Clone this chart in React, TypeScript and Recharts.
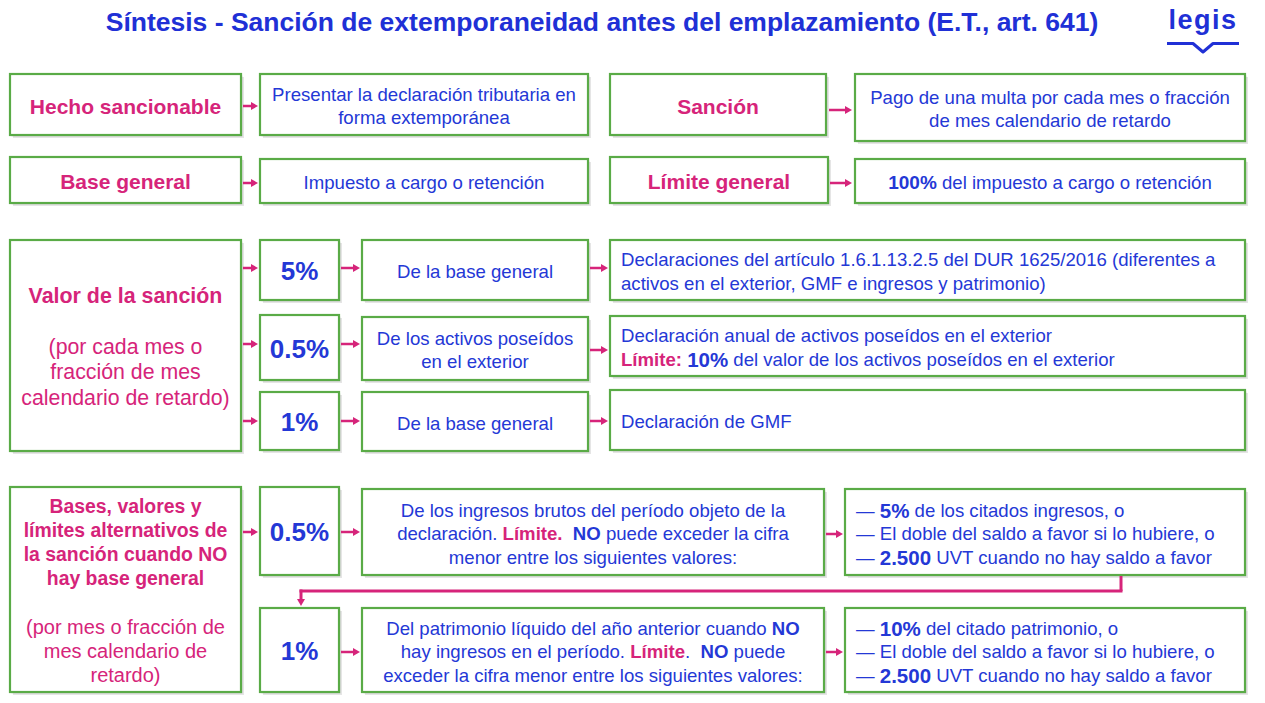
import React from 'react';
import { ComposedChart, XAxis, YAxis, ReferenceArea, ReferenceLine } from 'recharts';

// ---------- content ----------
const titleText = 'Síntesis - Sanción de extemporaneidad antes del emplazamiento (E.T., art. 641)';
const logoText = 'legis';

const headLabels: string[][] = [
  ['Hecho sancionable'],
  ['Sanción'],
  ['Base general'],
  ['Límite general'],
];
const headValues: string[][] = [
  ['Presentar la declaración tributaria en', 'forma extemporánea'],
  ['Pago de una multa por cada mes o fracción', 'de mes calendario de retardo'],
  ['Impuesto a cargo o retención'],
  ['*100%* del impuesto a cargo o retención'],
];
const valorLines: string[] = ['*Valor de la sanción*', '', '(por cada mes o', 'fracción de mes', 'calendario de retardo)'];
const rateLabels: string[] = ['5%', '0.5%', '1%'];
const rateBases: string[][] = [
  ['De la base general'],
  ['De los activos poseídos', 'en el exterior'],
  ['De la base general'],
];
const rateDeclarations: string[][] = [
  ['Declaraciones del artículo 1.6.1.13.2.5 del DUR 1625/2016 (diferentes a', 'activos en el exterior, GMF e ingresos y patrimonio)'],
  ['Declaración anual de activos poseídos en el exterior', '#Límite:# *10%* del valor de los activos poseídos en el exterior'],
  ['Declaración de GMF'],
];
const altLines: string[] = [
  '*Bases, valores y*', '*límites alternativos de*', '*la sanción cuando NO*', '*hay base general*', '',
  '(por mes o fracción de', 'mes calendario de', 'retardo)',
];
const altRates: string[] = ['0.5%', '1%'];
const altBases: string[][] = [
  ['De los ingresos brutos del período objeto de la', 'declaración. #Límite.#  *NO* puede exceder la cifra', 'menor entre los siguientes valores:'],
  ['Del patrimonio líquido del año anterior cuando *NO*', 'hay ingresos en el período. #Límite#.  *NO* puede', 'exceder la cifra menor entre los siguientes valores:'],
];
const altLimits: string[][] = [
  ['— *5%* de los citados ingresos, o', '— El doble del saldo a favor si lo hubiere, o', '— *2.500* UVT cuando no hay saldo a favor'],
  ['— *10%* del citado patrimonio, o', '— El doble del saldo a favor si lo hubiere, o', '— *2.500* UVT cuando no hay saldo a favor'],
];

// ---------- layout (diagram units) ----------
type Kind = 'head' | 'body' | 'bodyL' | 'pct' | 'side' | 'side2';
type Box = { x1: number; x2: number; y1: number; y2: number; kind: Kind; lines: string[] };

const boxes: Box[] = [
  { x1: 10, x2: 241, y1: 74, y2: 135, kind: 'head', lines: headLabels[0] },
  { x1: 260, x2: 588, y1: 74, y2: 135, kind: 'body', lines: headValues[0] },
  { x1: 610, x2: 826, y1: 74, y2: 135, kind: 'head', lines: headLabels[1] },
  { x1: 855, x2: 1245, y1: 74, y2: 141, kind: 'body', lines: headValues[1] },
  { x1: 10, x2: 241, y1: 157, y2: 203, kind: 'head', lines: headLabels[2] },
  { x1: 260, x2: 588, y1: 159, y2: 203, kind: 'body', lines: headValues[2] },
  { x1: 610, x2: 828, y1: 157, y2: 203, kind: 'head', lines: headLabels[3] },
  { x1: 855, x2: 1245, y1: 159, y2: 203, kind: 'body', lines: headValues[3] },
  { x1: 10, x2: 241, y1: 240, y2: 451, kind: 'side', lines: valorLines },
  { x1: 260, x2: 339, y1: 240, y2: 300, kind: 'pct', lines: [rateLabels[0]] },
  { x1: 260, x2: 339, y1: 315, y2: 380, kind: 'pct', lines: [rateLabels[1]] },
  { x1: 260, x2: 339, y1: 392, y2: 450, kind: 'pct', lines: [rateLabels[2]] },
  { x1: 362, x2: 588, y1: 240, y2: 300, kind: 'body', lines: rateBases[0] },
  { x1: 362, x2: 588, y1: 317, y2: 380, kind: 'body', lines: rateBases[1] },
  { x1: 362, x2: 588, y1: 392, y2: 451, kind: 'body', lines: rateBases[2] },
  { x1: 610, x2: 1245, y1: 240, y2: 300, kind: 'bodyL', lines: rateDeclarations[0] },
  { x1: 610, x2: 1245, y1: 316, y2: 376, kind: 'bodyL', lines: rateDeclarations[1] },
  { x1: 610, x2: 1245, y1: 390, y2: 450, kind: 'bodyL', lines: rateDeclarations[2] },
  { x1: 10, x2: 241, y1: 487, y2: 692, kind: 'side2', lines: altLines },
  { x1: 260, x2: 339, y1: 487, y2: 575, kind: 'pct', lines: [altRates[0]] },
  { x1: 260, x2: 339, y1: 608, y2: 692, kind: 'pct', lines: [altRates[1]] },
  { x1: 362, x2: 824, y1: 489, y2: 575, kind: 'body', lines: altBases[0] },
  { x1: 362, x2: 824, y1: 608, y2: 692, kind: 'body', lines: altBases[1] },
  { x1: 845, x2: 1245, y1: 489, y2: 575, kind: 'bodyL', lines: altLimits[0] },
  { x1: 845, x2: 1245, y1: 608, y2: 692, kind: 'bodyL', lines: altLimits[1] },
];

type Seg = { x1: number; y1: number; x2: number; y2: number; head: boolean; w: number };
const arrows: Seg[] = [
  { x1: 243, y1: 106, x2: 258, y2: 106, head: true, w: 2.5 },
  { x1: 829, y1: 110, x2: 852, y2: 110, head: true, w: 2.5 },
  { x1: 243, y1: 183, x2: 258, y2: 183, head: true, w: 2.5 },
  { x1: 830, y1: 183, x2: 852, y2: 183, head: true, w: 2.5 },
  { x1: 243, y1: 268, x2: 258, y2: 268, head: true, w: 2.5 },
  { x1: 243, y1: 344, x2: 258, y2: 344, head: true, w: 2.5 },
  { x1: 243, y1: 421, x2: 258, y2: 421, head: true, w: 2.5 },
  { x1: 341, y1: 268, x2: 360, y2: 268, head: true, w: 2.5 },
  { x1: 341, y1: 344, x2: 360, y2: 344, head: true, w: 2.5 },
  { x1: 341, y1: 421, x2: 360, y2: 421, head: true, w: 2.5 },
  { x1: 590, y1: 268, x2: 608, y2: 268, head: true, w: 2.5 },
  { x1: 590, y1: 350, x2: 608, y2: 350, head: true, w: 2.5 },
  { x1: 590, y1: 421, x2: 608, y2: 421, head: true, w: 2.5 },
  { x1: 243, y1: 532, x2: 258, y2: 532, head: true, w: 2.5 },
  { x1: 341, y1: 532, x2: 360, y2: 532, head: true, w: 2.5 },
  { x1: 826, y1: 534, x2: 843, y2: 534, head: true, w: 2.5 },
  { x1: 341, y1: 652, x2: 360, y2: 652, head: true, w: 2.5 },
  { x1: 826, y1: 652, x2: 843, y2: 652, head: true, w: 2.5 },
  { x1: 1121, y1: 576, x2: 1121, y2: 591, head: false, w: 3 },
  { x1: 1122.5, y1: 591, x2: 299.5, y2: 591, head: false, w: 3 },
  { x1: 301, y1: 589.5, x2: 301, y2: 606, head: true, w: 3 },
];

// ---------- styles ----------
const W = 1265;
const H = 703;
const FONT = '"Liberation Sans", Arial, Helvetica, sans-serif';
const BLUE = '#2438d6';
const TITLE_BLUE = '#2030d6';
const MAG = '#d6247a';
const GREEN = '#5aab47';

const kindStyle: Record<Kind, { color: string; size: number; boldSize: number; bold: boolean; lh: number; align: 'middle' | 'start' }> = {
  head: { color: MAG, size: 21, boldSize: 21, bold: true, lh: 24, align: 'middle' },
  body: { color: BLUE, size: 18.6, boldSize: 19, bold: false, lh: 23.5, align: 'middle' },
  bodyL: { color: BLUE, size: 18.6, boldSize: 20.5, bold: false, lh: 23.5, align: 'start' },
  pct: { color: BLUE, size: 26, boldSize: 26, bold: true, lh: 28, align: 'middle' },
  side: { color: MAG, size: 21.3, boldSize: 21.4, bold: false, lh: 25.5, align: 'middle' },
  side2: { color: MAG, size: 20, boldSize: 19.4, bold: false, lh: 24.2, align: 'middle' },
};

function parseLine(line: string) {
  const parts = line.split(/(\*[^*]+\*|#[^#]+#)/).filter((p) => p.length > 0);
  return parts.map((p) => {
    if (p.startsWith('*') && p.endsWith('*')) return { t: p.slice(1, -1), bold: true, mag: false };
    if (p.startsWith('#') && p.endsWith('#')) return { t: p.slice(1, -1), bold: true, mag: true };
    return { t: p, bold: false, mag: false };
  });
}

function makeBoxShape(box: Box) {
  return (props: any) => {
    const { x, y, width, height } = props;
    const st = kindStyle[box.kind];
    const n = box.lines.length;
    const lh = st.lh;
    const cy = y + height / 2 + 1;
    const tx = st.align === 'middle' ? x + width / 2 : x + 11;
    return (
      <g>
        <rect x={x + 3} y={y + 3} width={width} height={height} fill="#000" opacity={0.1} />
        <rect x={x + 1.5} y={y + 1.5} width={width} height={height} fill="#000" opacity={0.1} />
        <rect x={x} y={y} width={width} height={height} fill="#ffffff" stroke={GREEN} strokeWidth={2.2} />
        {box.lines.map((line, i) => {
          const ly = cy - ((n - 1) * lh) / 2 + i * lh;
          const segs = parseLine(line);
          return (
            <text
              key={i}
              x={tx}
              y={ly}
              textAnchor={st.align}
              dominantBaseline="central"
              fontFamily={FONT}
              fontSize={st.size}
              fontWeight={st.bold ? 'bold' : 'normal'}
              fill={st.color}
              style={{ whiteSpace: 'pre' }}
            >
              {segs.map((s, j) => (
                <tspan
                  key={j}
                  fontWeight={s.bold || st.bold ? 'bold' : 'normal'}
                  fill={s.mag ? MAG : st.color}
                  fontSize={s.bold && /%|\d/.test(s.t) ? st.boldSize : s.bold && (box.kind === 'side' || box.kind === 'side2') ? st.boldSize : st.size}
                >
                  {s.t}
                </tspan>
              ))}
            </text>
          );
        })}
      </g>
    );
  };
}

function makeArrowShape(seg: Seg) {
  return (props: any) => {
    const { x1, y1, x2, y2 } = props;
    const dx = x2 - x1;
    const dy = y2 - y1;
    const len = Math.sqrt(dx * dx + dy * dy) || 1;
    const ux = dx / len;
    const uy = dy / len;
    const hl = 7;
    const hw = 4;
    const bx = x2 - ux * hl;
    const by = y2 - uy * hl;
    const px = -uy;
    const py = ux;
    return (
      <g>
        <line x1={x1} y1={y1} x2={seg.head ? bx + ux : x2} y2={seg.head ? by + uy : y2} stroke={MAG} strokeWidth={seg.w} />
        {seg.head ? (
          <polygon
            points={`${x2},${y2} ${bx + px * hw},${by + py * hw} ${bx - px * hw},${by - py * hw}`}
            fill={MAG}
          />
        ) : null}
      </g>
    );
  };
}

const titleShape = (props: any) => {
  const { x, y, width, height } = props;
  return (
    <text
      x={x + width / 2}
      y={y + height / 2}
      textAnchor="middle"
      dominantBaseline="central"
      fontFamily={FONT}
      fontSize={26.5}
      fontWeight="bold"
      fill={TITLE_BLUE}
    >
      {titleText}
    </text>
  );
};

const logoShape = (props: any) => {
  const { x, y, width } = props;
  const cx = x + width / 2;
  return (
    <g>
      <text
        x={cx}
        y={y + 23}
        textAnchor="middle"
        fontFamily={FONT}
        fontSize={27}
        fontWeight="bold"
        fill={TITLE_BLUE}
        letterSpacing={1.5}
      >
        {logoText}
      </text>
      <path
        d={`M${x},${y + 37.5} L${cx - 10},${y + 37.5} L${cx},${y + 46} L${cx + 10},${y + 37.5} L${x + width},${y + 37.5}`}
        stroke={TITLE_BLUE}
        strokeWidth={3}
        fill="none"
        strokeLinejoin="round"
      />
    </g>
  );
};

export default function App() {
  return (
    <div style={{ position: 'absolute', left: 0, top: 0, width: W, height: H, background: '#ffffff' }}>
      <ComposedChart width={W} height={H} data={[]} margin={{ top: 0, right: 0, bottom: 0, left: 0 }}>
        <XAxis type="number" dataKey="x" domain={[0, W]} allowDataOverflow hide />
        <YAxis type="number" dataKey="y" domain={[0, H]} allowDataOverflow reversed hide />
        <ReferenceArea x1={100} x2={1104} y1={5} y2={38} shape={titleShape} ifOverflow="visible" />
        <ReferenceArea x1={1167} x2={1239} y1={6} y2={52} shape={logoShape} ifOverflow="visible" />
        {boxes.map((b, i) => (
          <ReferenceArea key={'b' + i} x1={b.x1} x2={b.x2} y1={b.y1} y2={b.y2} shape={makeBoxShape(b)} ifOverflow="visible" />
        ))}
        {arrows.map((a, i) => (
          <ReferenceLine
            key={'a' + i}
            segment={[{ x: a.x1, y: a.y1 }, { x: a.x2, y: a.y2 }]}
            shape={makeArrowShape(a)}
            ifOverflow="visible"
          />
        ))}
      </ComposedChart>
    </div>
  );
}
